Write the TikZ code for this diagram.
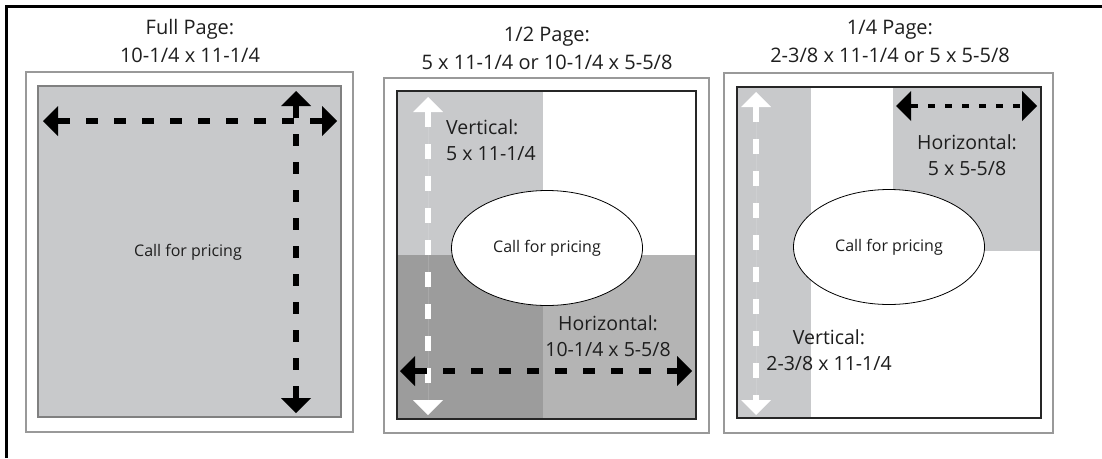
\documentclass[tikz,border=0pt]{standalone}
\usepackage{fontspec}
\setmainfont{Open Sans}
\usetikzlibrary{arrows.meta,shapes.geometric,positioning}

\definecolor{paleshade}{HTML}{C8C9CB}
\definecolor{midshade}{HTML}{B4B4B4}
\definecolor{deepshade}{HTML}{9C9C9C}
\definecolor{inkgrey}{HTML}{1E1E1E}

\begin{document}
\begin{tikzpicture}[x=1pt, y=-1pt,
    every node/.style={align=center, text=inkgrey, inner sep=0pt},
    heading/.style={font=\fontsize{20}{28}\selectfont},
    sizetext/.style={font=\fontsize{19.5}{26}\selectfont},
    pricetext/.style={font=\fontsize{16}{20}\selectfont},
    price/.style={ellipse, draw=black, fill=white, line width=0.8pt, minimum width=191pt, minimum height=115pt, pricetext},
    sheet/.style={draw=black!40, line width=1.5pt, fill=white},
    pagebox/.style={draw=black!85, line width=2.4pt},
    >={Triangle[width=30pt, length=15pt, line width=0pt]},
    blackarrow/.style={<->, draw=black, line width=6pt, dash pattern=on 12pt off 16pt},
    smallarrow/.style={<->, draw=black, line width=4pt, dash pattern=on 7pt off 10pt},
    whitearrow/.style={<->, draw=white, fill=white, line width=6pt, dash pattern=on 15pt off 17pt}
]
    \useasboundingbox (0,0) rectangle (1102,458);

    % Frame
    \draw[line width=2.5pt] (6.5,458) -- (6.5,6.5) -- (1102,6.5);

    % Full page
    \draw[sheet] (26,72) rectangle (353,432);
    \draw[draw=black!50, line width=2pt, fill=paleshade] (38,86) rectangle (341,417);
    \node[heading] (fulltitle) at (190,41) {Full Page:\\10-1/4 x 11-1/4};
    \node[pricetext] (fullprice) at (188,252) {Call for pricing};
    \coordinate (fullwest) at (43,121);
    \coordinate (fulleast) at (337,121);
    \coordinate (fullnorth) at (296,91);
    \coordinate (fullsouth) at (296,413);
    \draw[blackarrow] (fullwest) -- (fulleast);
    \draw[blackarrow] (fullnorth) -- (fullsouth);

    % Half page
    \draw[sheet] (384,78) rectangle (709,433);
    \fill[paleshade] (397,91) rectangle (543,255);
    \fill[deepshade] (397,255) rectangle (543,419);
    \fill[midshade] (543,255) rectangle (696,419);
    \draw[pagebox] (397,91) rectangle (696,419);
    \node[heading] (halftitle) at (547,48) {1/2 Page:\\5 x 11-1/4 or 10-1/4 x 5-5/8};
    \node[price] (halfprice) at (547,248) {Call for pricing};
    \node[sizetext, align=left, anchor=west] (halfvert) at (446,140) {Vertical:\\5 x 11-1/4};
    \node[sizetext] (halfhoriz) at (608,336) {Horizontal:\\10-1/4 x 5-5/8};
    \coordinate (halfnorth) at (428,97);
    \coordinate (halfsouth) at (428,415);
    \coordinate (halfwest) at (400,371);
    \coordinate (halfeast) at (692,371);
    \draw[whitearrow] (halfnorth) -- (halfsouth);
    \draw[blackarrow] (halfwest) -- (halfeast);

    % Quarter page
    \draw[sheet] (724,73) rectangle (1053,433);
    \fill[paleshade] (737,87) rectangle (811,418);
    \fill[paleshade] (893,87) rectangle (1041,251);
    \draw[pagebox] (737,87) rectangle (1041,418);
    \node[heading] (quartertitle) at (890,41) {1/4 Page:\\2-3/8 x 11-1/4 or 5 x 5-5/8};
    \node[price] (quarterprice) at (889,247) {Call for pricing};
    \node[sizetext] (quarterhoriz) at (967,155) {Horizontal:\\5 x 5-5/8};
    \node[sizetext] (quartervert) at (829,350) {Vertical:\\2-3/8 x 11-1/4};
    \coordinate (quarternorth) at (756,92);
    \coordinate (quartersouth) at (756,415);
    \coordinate (quarterwest) at (896,106);
    \coordinate (quartereast) at (1037,106);
    \draw[whitearrow] (quarternorth) -- (quartersouth);
    \draw[smallarrow] (quarterwest) -- (quartereast);
\end{tikzpicture}
\end{document}
